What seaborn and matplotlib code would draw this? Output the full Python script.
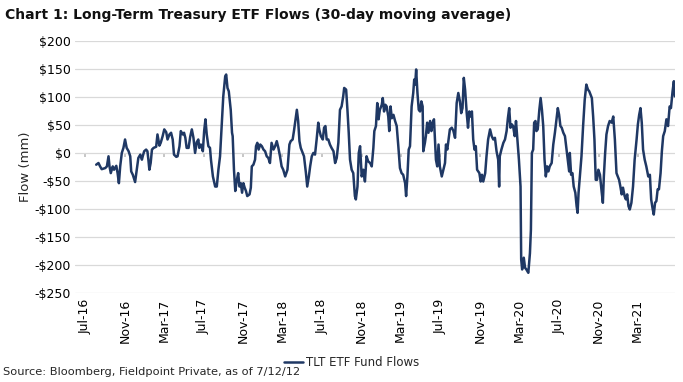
import pandas as pd
import matplotlib
matplotlib.use('Agg')
import matplotlib.pyplot as plt
import matplotlib.dates as mdates
from matplotlib.ticker import FuncFormatter
import seaborn as sns

# values (days after 2016-07-01, flow in $mm)
start_date = '2016-07-01'
day_offsets = [
    34, 41, 46, 51, 62, 67, 72, 75, 79, 85, 89, 96, 100, 104, 108, 113, 118, 123, 128, 134,
    139, 142, 147, 154, 159, 164, 170, 175, 178, 182, 188, 192, 195, 198, 202, 206, 211, 219, 223, 229,
    233, 239, 244, 250, 254, 260, 265, 270, 274, 281, 285, 291, 295, 301, 305, 309, 313, 319, 324, 329,
    334, 339, 344, 349, 352, 357, 363, 367, 371, 375, 380, 385, 388, 394, 401, 406, 411, 416,
    421, 426, 432, 435, 439, 443, 449, 453, 455, 459, 463, 468, 472, 476, 480, 484, 488, 492, 496, 500,
    507, 511, 514, 519, 524, 527, 531, 535, 540, 545, 550, 555, 560, 565, 570, 575, 581, 586, 591, 596,
    601, 606, 611, 617, 624, 630, 634, 640, 644, 649, 653, 657, 661, 665, 671, 675, 681, 685, 690, 694,
    699, 704, 709, 714, 719, 722, 727, 733, 737, 741, 745, 750, 755, 760, 766, 771, 776, 781,
    786, 791, 796, 799, 805, 809, 813, 817, 822, 827, 832, 835, 840, 844, 848,
    853, 858, 863, 868, 873, 879, 884, 889, 892, 897, 901, 905, 909, 915, 918, 922, 926, 930, 935, 938,
    942, 946, 951, 956, 961, 966, 971, 976, 981, 987, 990, 994, 998, 1002, 1007, 1012, 1015, 1018, 1021, 1025,
    1029, 1033, 1037, 1041, 1043, 1048, 1051, 1055, 1059, 1064, 1068, 1072, 1076, 1079, 1082, 1086, 1090, 1094, 1100, 1105,
    1110, 1113, 1117, 1121, 1125, 1131, 1136, 1141, 1146, 1151, 1156, 1160, 1164, 1168, 1172, 1177, 1181, 1185, 1189, 1193,
    1197, 1201, 1205, 1209, 1216, 1220, 1224, 1228, 1234, 1238, 1243, 1249, 1254, 1259, 1264, 1269, 1274, 1277,
    1279, 1284, 1290, 1295, 1300, 1304, 1308, 1312, 1316, 1320, 1325, 1329, 1333, 1338, 1343, 1345, 1348, 1353, 1357, 1361,
    1367, 1372, 1375, 1378, 1382, 1385, 1389, 1392, 1396, 1401, 1405, 1409, 1413, 1417, 1421, 1425, 1429, 1433, 1439, 1444,
    1449, 1454, 1458, 1462, 1466, 1470, 1475, 1480, 1485, 1489, 1493, 1495, 1499, 1503, 1507, 1512, 1516, 1519, 1522, 1526,
    1531, 1536, 1541, 1546, 1551, 1555, 1559, 1563, 1567, 1571, 1575, 1579, 1583, 1588, 1593, 1597, 1600, 1604, 1608, 1613,
    1618, 1624, 1629, 1634, 1639, 1643, 1647, 1651, 1655, 1659, 1664, 1668, 1672, 1676, 1680, 1685, 1690, 1695, 1701, 1705,
    1709, 1713, 1717, 1721, 1726, 1731, 1737, 1742, 1746, 1750, 1754, 1758, 1762, 1766, 1770, 1775, 1779, 1783, 1788, 1793,
    1798, 1803, 1807, 1812, 1816, 1819,
]
flows = [
    -21, -18, -24, -29, -27, -24, -6, -24, -36, -24, -30, -23, -36, -54, -24, 0, 9, 24, 9, 3,
    -6, -33, -39, -52, -30, -9, -3, -12, -5, 3, 6, 3, -12, -30, -18, 6, 9, 11, 33, 13,
    18, 30, 42, 37, 24, 33, 36, 24, -3, -7, -6, 12, 39, 33, 36, 27, 9, 9, 29, 42,
    27, 0, 19, 24, 9, 15, 3, 39, 60, 33, 12, 9, -12, -42, -60, -60, -30, -6,
    48, 101, 137, 140, 116, 110, 77, 36, 30, -30, -68, -48, -36, -60, -54, -71, -54, -62, -68, -77,
    -74, -62, -24, -21, -12, 12, 18, 6, 15, 12, 6, 3, -6, -9, -18, 18, 6, 12, 21, 9,
    -6, -24, -30, -42, -30, 15, 21, 24, 39, 60, 77, 57, 21, 9, 0, -6, -36, -60, -42, -24,
    -6, 0, -3, 24, 54, 42, 30, 24, 45, 48, 24, 24, 15, 9, 3, -18, -9, 18,
    77, 83, 101, 116, 113, 77, 36, -12, -30, -36, -77, -83, -60, 0, 12,
    -42, -30, -51, -6, -15, -18, -24, 9, 39, 48, 89, 60, 77, 86, 98, 74, 86, 83, 65, 39,
    83, 62, 68, 57, 48, 12, -27, -36, -39, -54, -77, -42, 6, 12, 83, 107, 131, 122, 149, 107,
    77, 74, 92, 83, 3, 18, 30, 54, 36, 57, 39, 54, 60, 24, -12, -24, 15, -24, -42, -30,
    -18, 15, 6, 24, 42, 45, 39, 27, 89, 107, 92, 71, 80, 134, 113, 71, 45, 74, 65, 74,
    24, 6, 12, -30, -36, -51, -39, -51, -36, -6, 24, 42, 30, 24, 27, 3, -12, -60,
    -6, 6, 18, 24, 39, 62, 80, 45, 51, 48, 30, 57, 27, -12, -60, -190, -208, -187, -205, -208,
    -214, -179, -137, 0, 6, 54, 57, 39, 42, 77, 98, 77, 48, -12, -42, -24, -33, -24, -18, 15,
    36, 60, 80, 68, 48, 45, 36, 30, 6, -12, -33, 0, -39, -36, -60, -71, -95, -107, -71, -42,
    -6, 48, 95, 122, 113, 110, 104, 98, 65, 24, -48, -48, -30, -39, -68, -89, -42, 0, 33, 48,
    57, 54, 65, 24, -36, -42, -48, -60, -74, -62, -77, -83, -74, -95, -101, -89, -60, -12, 24, 51,
    68, 80, 54, 6, -12, -24, -42, -39, -83, -98, -110, -89, -86, -65, -65, -36, 3, 30, 39, 60,
    48, 83, 80, 110, 128, 101,
]
series_name = 'TLT ETF Fund Flows'
title = 'Chart 1: Long-Term Treasury ETF Flows (30-day moving average)'
source_note = 'Source: Bloomberg, Fieldpoint Private, as of 7/12/12'

df = pd.DataFrame({
    'Date': pd.to_datetime(start_date) + pd.to_timedelta(day_offsets, unit='D'),
    'Flow': flows,
})

sns.set_theme(style='white')
plt.rcParams['font.family'] = ['DejaVu Sans']

fig = plt.figure(figsize=(6.83, 3.82), dpi=100)
ax = fig.add_axes([0.110, 0.233, 0.879, 0.660])

sns.lineplot(data=df, x='Date', y='Flow', ax=ax, color='#1F3864', linewidth=1.8, label=series_name)

ymin, ymax = -250, 200
ax.set_ylim(ymin, ymax)
ax.set_yticks(range(ymin, ymax + 1, 50))
ax.yaxis.set_major_formatter(FuncFormatter(lambda v, p: f'-${abs(v):.0f}' if v < 0 else f'${v:.0f}'))
ax.set_xlim(pd.Timestamp('2016-05-31'), pd.Timestamp('2021-06-26'))
ax.xaxis.set_major_locator(mdates.MonthLocator(bymonth=[3, 7, 11]))
ax.xaxis.set_major_formatter(mdates.DateFormatter('%b-%y'))
ax.grid(axis='y', color='#D9D9D9', linewidth=0.9)
ax.grid(axis='x', visible=False)
for s in ax.spines.values():
    s.set_visible(False)
ax.tick_params(axis='x', labelrotation=90, labelsize=9, length=0, pad=4, colors='#000000')
ax.tick_params(axis='y', labelsize=9, length=0, pad=3, colors='#000000')
ax.set_xlabel('')
ax.set_ylabel('Flow (mm)', fontsize=9.5, labelpad=2)

# zero line with tick marks, like Excel's crossing axis
zero_pos = (0 - ymin) / (ymax - ymin)
sec = ax.secondary_xaxis(zero_pos)
sec.xaxis.set_major_locator(mdates.MonthLocator(bymonth=[3, 7, 11]))
sec.tick_params(axis='x', direction='out', length=3, color='#BFBFBF', labelbottom=False, labeltop=False, bottom=True, top=False)
sec.xaxis.set_ticks_position('bottom')
sec.set_xticklabels([])
for s in sec.spines.values():
    s.set_visible(False)

ax.legend(loc='center', bbox_to_anchor=(0.515, 0.052), bbox_transform=fig.transFigure,
          frameon=False, fontsize=8.5, handlelength=1.6, handletextpad=0.3)

fig.text(0.007, 0.962, title, fontsize=10, fontweight='bold', va='center', ha='left',
         color='#111111')
fig.text(0.004, 0.026, source_note, fontsize=8.2, va='center', ha='left')

fig.savefig('out.png', dpi=100)
